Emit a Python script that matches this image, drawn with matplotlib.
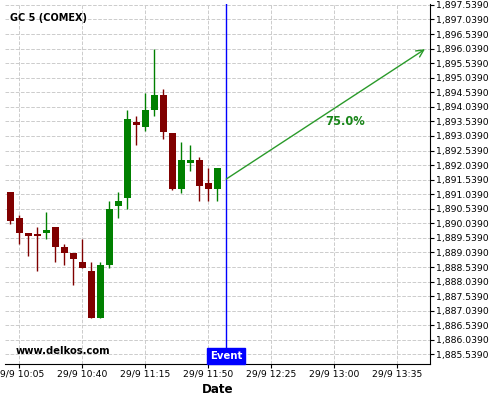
import matplotlib
matplotlib.use("Agg")
import matplotlib.pyplot as plt
import matplotlib.dates as mdates
import pandas as pd
import numpy as np
from matplotlib.ticker import FuncFormatter

# 5 minute candles, 29/9
times = ["10:00", "10:05", "10:10", "10:15", "10:20", "10:25", "10:30", "10:35",
         "10:40", "10:45", "10:50", "10:55", "11:00", "11:05", "11:10", "11:15",
         "11:20", "11:25", "11:30", "11:35", "11:40", "11:45", "11:50", "11:55"]
opens = [1891.12, 1890.22, 1889.71, 1889.64, 1889.72, 1889.92, 1889.23, 1889.02,
         1888.71, 1888.40, 1886.80, 1888.62, 1890.65, 1890.92, 1893.52, 1893.36,
         1893.94, 1894.45, 1893.14, 1891.23, 1892.12, 1892.22, 1891.43, 1891.23]
highs = [1891.12, 1890.33, 1889.71, 1889.91, 1890.42, 1889.92, 1889.32, 1889.02,
         1889.49, 1888.70, 1888.70, 1890.81, 1891.11, 1893.92, 1893.72, 1894.53,
         1896.02, 1894.64, 1893.14, 1892.82, 1892.72, 1892.31, 1891.93, 1891.94]
lows = [1890.01, 1889.33, 1888.92, 1888.39, 1889.49, 1888.70, 1888.60, 1887.91,
        1888.52, 1886.78, 1886.78, 1888.50, 1890.21, 1890.52, 1892.72, 1893.22,
        1893.72, 1892.93, 1891.20, 1891.09, 1891.83, 1890.80, 1890.80, 1890.80]
closes = [1890.13, 1889.72, 1889.62, 1889.61, 1889.81, 1889.24, 1889.03, 1888.83,
          1888.52, 1886.80, 1888.61, 1890.53, 1890.81, 1893.62, 1893.43, 1893.93,
          1894.45, 1893.17, 1891.22, 1892.22, 1892.22, 1891.33, 1891.23, 1891.94]

event_time = "12:00"
target_time = "13:50"
start_price = 1891.56
target_price = 1896.02
probability = "75.0%"
title = "GC 5 (COMEX)"

y_ticks = [1885.539 + 0.5 * k for k in range(25)]
x_ticks = ["10:05", "10:40", "11:15", "11:50", "12:25", "13:00", "13:35"]


def to_num(t):
	return mdates.date2num(pd.Timestamp("2020-09-29 " + t))


x = np.array([to_num(t) for t in times])
minute = 1.0 / 1440

fig = plt.figure(figsize=(5, 4), dpi=100)
ax = fig.add_axes([0.01, 0.09, 0.85, 0.90])

for i in range(len(x)):
	if closes[i] >= opens[i]:
		col = "#008000"
	else:
		col = "#800000"
	ax.vlines(x[i], lows[i], highs[i], color=col, linewidth=1, zorder=3)
	lo = min(opens[i], closes[i])
	h = max(abs(closes[i] - opens[i]), 0.08)
	ax.bar(x[i], h, bottom=lo, width=3.7 * minute, color=col, zorder=4)

ex = to_num(event_time)
ax.axvline(ex, color="#0000ff", linewidth=1, zorder=5)
ax.text(ex, 1885.47, "Event", color="white", fontsize=7.3, fontweight="bold",
	ha="center", va="center", zorder=6,
	bbox=dict(boxstyle="square,pad=0.3", fc="#0000ff", ec="#0000ff"))

ax.annotate("", xy=(to_num(target_time) + 0.4 * minute, target_price), xytext=(ex, start_price),
	arrowprops=dict(arrowstyle="->", color="#2a9a2a", lw=1, mutation_scale=13,
		shrinkA=0, shrinkB=0), zorder=5)
ax.text(to_num("13:06"), 1893.52, probability, color="#1a861a", fontsize=8.3,
	fontweight="bold", ha="center", va="center")

ax.text(0.012, 0.975, title, transform=ax.transAxes, fontsize=7, fontweight="bold",
	ha="left", va="top")
ax.text(0.024, 0.035, "www.delkos.com", transform=ax.transAxes, fontsize=7.2,
	fontweight="bold", ha="left", va="center")

ax.set_xlim(to_num("09:57") + 0.1 * minute, to_num("13:53") + 0.2 * minute)
ax.set_ylim(1885.21, 1897.57)

ax.yaxis.tick_right()
ax.set_yticks(y_ticks)
ax.yaxis.set_major_formatter(FuncFormatter(lambda v, p: "{:,.4f}".format(v)))
ax.set_xticks([to_num(t) for t in x_ticks])
ax.set_xticklabels(["29/9 " + t for t in x_ticks])
ax.tick_params(labelsize=6.7, length=3, pad=1)
ax.set_xlabel("Date", fontsize=8.6, fontweight="bold", labelpad=3)

ax.grid(True, color="#cccccc", linestyle="--", linewidth=0.7)
ax.set_axisbelow(True)
ax.spines["top"].set_visible(False)
ax.spines["left"].set_visible(False)

plt.savefig("out.png", dpi=100)
plt.close()
